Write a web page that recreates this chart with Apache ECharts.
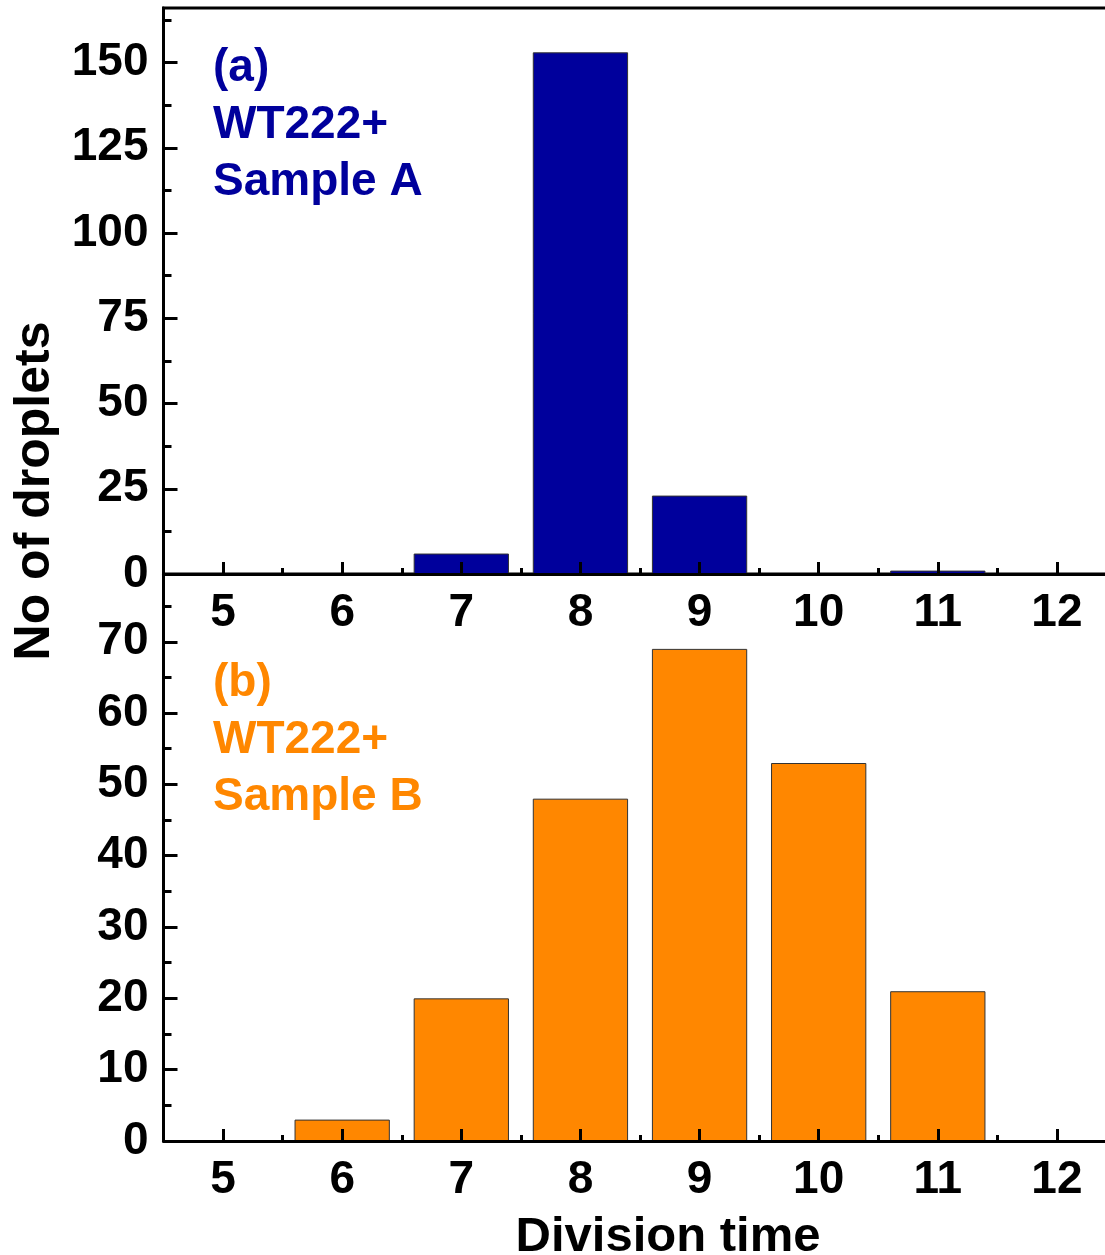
<!DOCTYPE html>
<html>
<head>
<meta charset="utf-8">
<script src="https://cdn.jsdelivr.net/npm/echarts@6/dist/echarts.min.js"></script>
<style>
html,body{margin:0;padding:0;background:#fff;}
#c{width:1105px;height:1255px;}
</style>
</head>
<body>
<div id="c"></div>
<script>
// ---- data ----
const categories = ['5','6','7','8','9','10','11','12'];
const sampleA = [0, 0, 6, 153, 23, 0, 1, 0];
const sampleB = [0, 3, 20, 48, 69, 53, 21, 0];
const yTicksA = [0, 25, 50, 75, 100, 125, 150];
const yMinorA = [12.5, 37.5, 62.5, 87.5, 112.5, 137.5, 162.5];
const yTicksB = [0, 10, 20, 30, 40, 50, 60, 70];
const yMinorB = [5, 15, 25, 35, 45, 55, 65, 75];
const labelsA = ['(a)', 'WT222+', 'Sample A'];
const labelsB = ['(b)', 'WT222+', 'Sample B'];
const xTitle = 'Division time';
const yTitle = 'No of droplets';

const FONT = '"Liberation Sans", Arial, sans-serif';
const BLUE = '#00009C';
const ORANGE = '#FF8700';

const chart = echarts.init(document.getElementById('c'), null, {renderer: 'canvas'});

function xAxes(gridIndex, withName) {
  const major = {
    type: 'category', gridIndex: gridIndex, data: categories, position: 'bottom', z: 5,
    axisLine: {lineStyle: {color: '#000', width: 3}},
    axisTick: {show: true, inside: true, alignWithLabel: true, length: 12, lineStyle: {color: '#000', width: 3}},
    axisLabel: {color: '#000', fontFamily: FONT, fontWeight: 'bold', fontSize: 46, margin: 16},
    splitLine: {show: false}
  };
  if (withName) {
    major.name = xTitle;
    major.nameLocation = 'middle';
    major.nameGap = 72;
    major.nameTextStyle = {color: '#000', fontFamily: FONT, fontWeight: 'bold', fontSize: 49, padding: [0, 0, 0, 56]};
  }
  const minor = {
    type: 'category', gridIndex: gridIndex, data: categories, position: 'bottom', z: 5,
    axisLine: {show: false},
    axisTick: {show: true, inside: true, alignWithLabel: false, length: 6, lineStyle: {color: '#000', width: 3}},
    axisLabel: {show: false},
    splitLine: {show: false}
  };
  return [major, minor];
}

function yAxes(gridIndex, max, ticks, minors) {
  return [{
    type: 'value', gridIndex: gridIndex, min: 0, max: max, position: 'left', z: 5,
    axisLine: {show: true, lineStyle: {color: '#000', width: 3}},
    axisTick: {show: true, inside: true, length: 14, customValues: ticks, lineStyle: {color: '#000', width: 3}},
    axisLabel: {color: '#000', fontFamily: FONT, fontWeight: 'bold', fontSize: 46, margin: 15, customValues: ticks},
    splitLine: {show: false},
    minorTick: {show: false}
  }, {
    type: 'value', gridIndex: gridIndex, min: 0, max: max, position: 'left', offset: 0, z: 5,
    axisLine: {show: false},
    axisTick: {show: true, inside: true, length: 8, customValues: minors, lineStyle: {color: '#000', width: 3}},
    axisLabel: {show: false},
    splitLine: {show: false}
  }];
}

function textBlock(lines, color, top) {
  return lines.map((t, i) => ({
    type: 'text', left: 213, top: top + i * 57,
    style: {text: t, fill: color, font: 'bold 46px ' + FONT}
  }));
}

const option = {
  backgroundColor: '#fff',
  animation: false,
  grid: [
    {left: 163.5, top: 8, width: 953, height: 566, show: true, borderColor: '#000', borderWidth: 3,
     backgroundColor: 'transparent', outerBoundsMode: 'none', containLabel: false},
    {left: 163.5, top: 574, width: 953, height: 567, outerBoundsMode: 'none', containLabel: false}
  ],
  xAxis: xAxes(0, false).concat(xAxes(1, true)),
  yAxis: yAxes(0, 166, yTicksA, yMinorA).concat(yAxes(1, 79.5, yTicksB, yMinorB)),
  series: [
    {type: 'bar', xAxisIndex: 0, yAxisIndex: 0, data: sampleA, barWidth: '80%',
     itemStyle: {color: BLUE, borderColor: '#333', borderWidth: 1}},
    {type: 'bar', xAxisIndex: 2, yAxisIndex: 2, data: sampleB, barWidth: '80%',
     itemStyle: {color: ORANGE, borderColor: '#333', borderWidth: 1}}
  ],
  graphic: [
    {type: 'text', x: 35, y: 491, rotation: Math.PI / 2,
     style: {text: yTitle, fill: '#000', font: 'bold 50px ' + FONT, align: 'center', verticalAlign: 'middle'}}
  ].concat(textBlock(labelsA, BLUE, 45)).concat(textBlock(labelsB, ORANGE, 660))
};
chart.setOption(option);
</script>
</body>
</html>
